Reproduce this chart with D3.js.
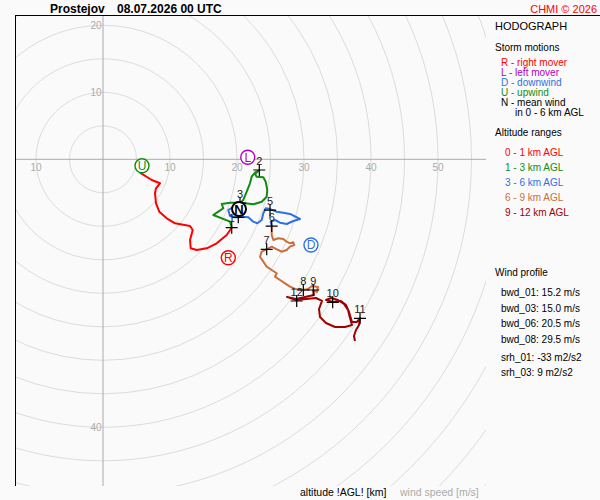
<!DOCTYPE html>
<html lang="en">
<head>
<meta charset="UTF-8">
<title>Hodograph</title>
<script src="https://d3js.org/d3.v7.min.js"></script>
<style>
    body { margin: 0; padding: 0; background: #fafafa; }
    svg { display: block; font-family: "Liberation Sans", Arial, sans-serif; }
    .grid circle { fill: none; stroke: #dcdcdc; stroke-width: 1px; }
    .axis line { stroke: #aaa; stroke-width: 1px; }
    .tick { fill: #aaa; font-size: 10px; }
    .hodo { fill: none; stroke-width: 2px; stroke-linejoin: round; }
</style>
</head>
<body>
<svg id="chart" width="600" height="500"></svg>
<script>
    // hodograph segments, wind components u, v in m/s
    const layer0_1 = [[5.52,-2.00],[7.27,-3.09],[8.51,-3.58],[7.91,-4.33],[7.76,-5.07],[7.91,-6.57],
        [8.40,-7.82],[9.51,-8.81],[10.75,-9.55],[12.99,-9.96],[13.39,-10.55],[12.99,-12.04],
        [13.09,-13.28],[13.99,-13.54],[15.48,-13.28],[16.97,-12.54],[18.46,-11.30],[19.21,-10.21]];
    const layer1_3 = [[19.21,-10.21],[18.96,-9.31],[16.46,-8.31],[17.21,-7.82],[17.96,-7.31],[17.72,-6.67],
        [18.96,-6.48],[20.45,-6.48],[21.19,-6.57],[22.43,-6.72],[23.69,-6.33],[24.43,-5.58],
        [24.52,-4.58],[24.28,-3.34],[23.93,-2.69],[22.94,-2.60],[22.69,-2.19],[23.33,-1.60],
        [22.69,-2.00],[22.19,-2.60],[21.94,-3.58],[21.45,-4.84],[20.94,-6.07],[20.45,-6.54]];
    const layer3_6 = [[20.45,-6.54],[19.40,-7.12],[18.70,-7.57],[18.96,-8.46],[19.70,-8.66],[20.19,-8.66],
        [20.70,-8.57],[21.69,-8.66],[22.43,-9.31],[23.03,-9.55],[23.69,-9.06],[23.93,-8.06],
        [24.28,-7.31],[24.93,-7.43],[25.93,-7.82],[26.91,-7.97],[27.91,-8.16],[29.40,-8.91],
        [28.40,-9.21],[27.42,-9.66],[26.42,-9.46],[25.67,-9.06],[25.03,-9.31],[25.18,-9.96]];
    const layer6_9 = [[25.18,-9.96],[25.18,-11.30],[25.42,-12.04],[26.16,-11.79],[26.91,-11.90],[27.42,-12.30],
        [27.91,-12.54],[28.40,-12.39],[28.55,-12.79],[27.91,-13.04],[27.42,-13.54],[26.67,-13.79],
        [26.16,-13.54],[25.67,-13.28],[25.18,-13.04],[24.43,-13.43],[23.69,-13.79],[23.43,-14.54],
        [23.93,-15.28],[24.43,-16.03],[25.18,-16.52],[25.93,-17.01],[25.67,-17.52],[26.42,-18.01],
        [27.16,-18.51],[27.91,-19.01],[28.66,-19.36],[29.90,-19.51],[30.60,-19.36],[31.19,-18.91],
        [32.09,-19.06],[31.94,-19.81],[31.39,-19.51]];
    const layer9_12 = [[31.39,-19.51],[31.49,-20.25],[30.15,-20.54],[28.81,-20.84],[27.46,-20.54],[28.81,-20.99],
        [30.30,-20.84],[31.79,-20.70],[32.69,-21.14],[32.24,-22.34],[32.39,-23.54],[33.28,-24.43],
        [34.63,-25.03],[36.12,-25.03],[37.16,-24.73],[36.87,-23.69],[36.57,-22.49],[35.97,-21.60],
        [35.07,-21.00],[34.03,-20.70],[33.28,-21.00],[34.33,-21.30],[35.52,-21.15],[36.27,-21.75],
        [36.72,-22.79],[37.16,-24.28],[37.91,-24.28],[38.36,-23.69],[38.21,-24.73],[37.76,-25.48],
        [37.46,-26.37],[37.61,-27.12]];

    // altitude marks [km, u, v]
    const kmMarks = [[1,19.21,-10.21],[2,23.33,-1.60],[3,20.45,-6.54],[4,20.19,-8.66],[5,24.93,-7.58],
        [6,25.18,-9.96],[7,24.43,-13.43],[8,29.90,-19.51],[9,31.39,-19.51],[10,34.28,-21.34],
        [11,38.36,-23.73],[12,28.91,-21.15]];
    // km labels covered by the mean wind marker in the original plot
    const hiddenLabels = [4];

    // storm motions [letter, u, v]
    const motions = [["U",5.82,-0.96],["L",21.60,0.30],["D",31.04,-12.79],["R",18.70,-14.69],["N",20.30,-7.43]];

    const ringSpeeds = d3.range(5, 90, 5);
    const hTicks = [-10, 10, 20, 30, 40, 50];
    const vTicks = [20, 10, -40];

    const motionLegend = ["R - right mover", "L - left mover", "D - downwind", "U - upwind", "N - mean wind"];
    const layerLegend = ["0 - 1 km AGL", "1 - 3 km AGL", "3 - 6 km AGL", "6 - 9 km AGL", "9 - 12 km AGL"];
    const profileNames = ["bwd_01", "bwd_03", "bwd_06", "bwd_08"];
    const profileValues = [15.2, 15.0, 20.5, 29.5];
    const srhNames = ["srh_01", "srh_03"];
    const srhValues = [-33, 9];

    const layerColors = ["#ff0000", "#118c11", "#2f6fe6", "#cc6e3c", "#a00000"];
    const motionColors = { R: "#ff0000", L: "#b000c0", D: "#2f6fe6", U: "#118c11", N: "#000" };

    const svg = d3.select("#chart");

    const x = d3.scaleLinear().domain([0, 10]).range([103, 170]);
    const y = d3.scaleLinear().domain([0, 10]).range([159.3, 92.3]);
    const px = x(1) - x(0);

    const plotL = 15, plotT = 15, plotR = 486, plotB = 486;

    svg.append("defs").append("clipPath").attr("id", "plotclip")
        .append("rect").attr("x", plotL).attr("y", plotT)
        .attr("width", plotR - plotL).attr("height", plotB - plotT);

    const plot = svg.append("g").attr("clip-path", "url(#plotclip)");

    plot.append("g").attr("class", "grid")
        .selectAll("circle").data(ringSpeeds).join("circle")
        .attr("cx", x(0)).attr("cy", y(0)).attr("r", d => d * px);

    const axis = plot.append("g").attr("class", "axis");
    axis.append("line").attr("x1", plotL).attr("x2", plotR).attr("y1", y(0)).attr("y2", y(0));
    axis.append("line").attr("x1", x(0)).attr("x2", x(0)).attr("y1", plotT).attr("y2", plotB);

    plot.append("g").selectAll("text").data(hTicks).join("text")
        .attr("class", "tick")
        .attr("x", d => x(d)).attr("y", y(0) + 11.5)
        .attr("text-anchor", "middle")
        .text(d => Math.abs(d));

    plot.append("g").selectAll("text").data(vTicks).join("text")
        .attr("class", "tick")
        .attr("x", x(0) - 1.5).attr("y", d => y(d) + 3.5)
        .attr("text-anchor", "end")
        .text(d => Math.abs(d));

    // frame
    svg.append("line").attr("x1", plotL).attr("x2", 600).attr("y1", plotT + 0.5).attr("y2", plotT + 0.5)
        .attr("stroke", "#000");
    svg.append("line").attr("x1", plotL + 0.5).attr("x2", plotL + 0.5).attr("y1", plotT).attr("y2", plotB)
        .attr("stroke", "#000");

    const line = d3.line().x(d => x(d[0])).y(d => y(d[1]));
    const layers = [layer0_1, layer1_3, layer3_6, layer6_9, layer9_12];

    plot.append("g").selectAll("path").data(layers).join("path")
        .attr("class", "hodo")
        .attr("stroke", (d, i) => layerColors[i])
        .attr("d", line);

    const marks = plot.append("g");
    marks.selectAll("path").data(kmMarks).join("path")
        .attr("d", d => `M${x(d[1]) - 6},${y(d[2])}h12M${x(d[1])},${y(d[2]) - 6}v12`)
        .attr("stroke", "#000").attr("stroke-width", 1.2);
    marks.selectAll("text").data(kmMarks.filter(d => !hiddenLabels.includes(d[0]))).join("text")
        .attr("x", d => x(d[1])).attr("y", d => y(d[2]) - 5.5)
        .attr("text-anchor", "middle")
        .style("font-size", "11px")
        .attr("fill", "#222")
        .text(d => d[0]);

    const mg = plot.append("g").selectAll("g").data(motions).join("g")
        .attr("transform", d => `translate(${x(d[1])},${y(d[2])})`);
    mg.append("circle")
        .attr("r", 7)
        .attr("fill", "#fff")
        .attr("stroke", d => motionColors[d[0]])
        .attr("stroke-width", d => d[0] === "N" ? 2 : 1.4);
    mg.append("text")
        .attr("text-anchor", "middle").attr("y", 4.5)
        .attr("fill", d => motionColors[d[0]])
        .style("font-size", d => d[0] === "N" ? "13px" : "12px")
        .style("font-weight", d => d[0] === "N" ? "bold" : "normal")
        .text(d => d[0]);

    // header
    svg.append("text").attr("x", 50).attr("y", 12.5)
        .style("font-size", "12px").style("font-weight", "bold")
        .text("Prostejov");
    svg.append("text").attr("x", 117).attr("y", 12.5)
        .style("font-size", "12px").style("font-weight", "bold")
        .text("08.07.2026 00 UTC");
    svg.append("text").attr("x", 597).attr("y", 12.5)
        .attr("text-anchor", "end").attr("fill", "#ff0000")
        .style("font-size", "11px")
        .text("CHMI \u00a9 2026");

    // footer
    svg.append("text").attr("x", 300).attr("y", 496)
        .style("font-size", "10.5px").text("altitude !AGL! [km]");
    svg.append("text").attr("x", 400).attr("y", 496)
        .style("font-size", "10.5px").attr("fill", "#aaa").text("wind speed [m/s]");

    // legend
    const lg = svg.append("g");
    lg.append("text").attr("x", 495).attr("y", 30).style("font-size", "11px").text("HODOGRAPH");
    lg.append("text").attr("x", 495).attr("y", 50.5).style("font-size", "10px").text("Storm motions");
    lg.selectAll(".mv").data(motionLegend).join("text")
        .attr("x", 501).attr("y", (d, i) => 65.5 + i * 10)
        .style("font-size", "10px")
        .attr("fill", d => motionColors[d[0]])
        .text(d => d);
    lg.append("text").attr("x", 515).attr("y", 115.5).style("font-size", "10px").text("in 0 - 6 km AGL");
    lg.append("text").attr("x", 495).attr("y", 135.5).style("font-size", "10px").text("Altitude ranges");
    lg.selectAll(".lr").data(layerLegend).join("text")
        .attr("x", 505).attr("y", (d, i) => 155.5 + i * 15)
        .style("font-size", "10px")
        .attr("fill", (d, i) => layerColors[i])
        .text(d => d);

    lg.append("text").attr("x", 495).attr("y", 276).style("font-size", "10px").text("Wind profile");
    lg.selectAll(".bw").data(profileNames).join("text")
        .attr("x", 501).attr("y", (d, i) => 296 + i * 15.5)
        .style("font-size", "10px")
        .text((d, i) => `${d}: ${profileValues[i].toFixed(1)} m/s`);
    lg.selectAll(".sr").data(srhNames).join("text")
        .attr("x", 501).attr("y", (d, i) => 360.5 + i * 15)
        .style("font-size", "10px")
        .text((d, i) => `${d}: ${srhValues[i]} m2/s2`);
</script>
</body>
</html>
